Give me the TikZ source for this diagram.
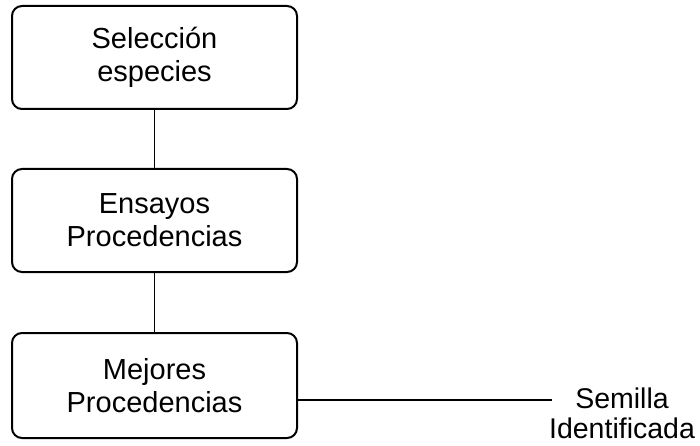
\documentclass[tikz,border=0pt]{standalone}
\usepackage{fontspec}
\setmainfont{Liberation Sans}
\usetikzlibrary{positioning}

\begin{document}
\begin{tikzpicture}
    [x=1pt,y=1pt,
    caja/.style={rectangle,rounded corners=10pt,draw=black,line width=2pt,
                 minimum width=285pt,minimum height=103pt,align=center,
                 font=\fontsize{29}{33}\selectfont},
    linea/.style={line width=1.6pt}]

    \useasboundingbox (0,0) rectangle (700,-446);

    \node[caja] (seleccion) at (154.5,-57.5) {Selecci\'on\\especies};
    \node[caja] (ensayos) [below=58pt of seleccion] {Ensayos\\Procedencias};
    \node[caja,minimum height=105pt] (mejores) [below=59pt of ensayos] {Mejores\\Procedencias};

    \coordinate (salida) at (552,-400);
    \node[align=center,inner sep=1pt,font=\fontsize{28.5}{30}\selectfont] (semilla) at (622,-413)
        {Semilla\\Identificada};

    \draw[linea] (seleccion) -- (ensayos);
    \draw[linea] (ensayos) -- (mejores);
    \draw[linea] (mejores.east |- salida) -- (salida);
\end{tikzpicture}
\end{document}
